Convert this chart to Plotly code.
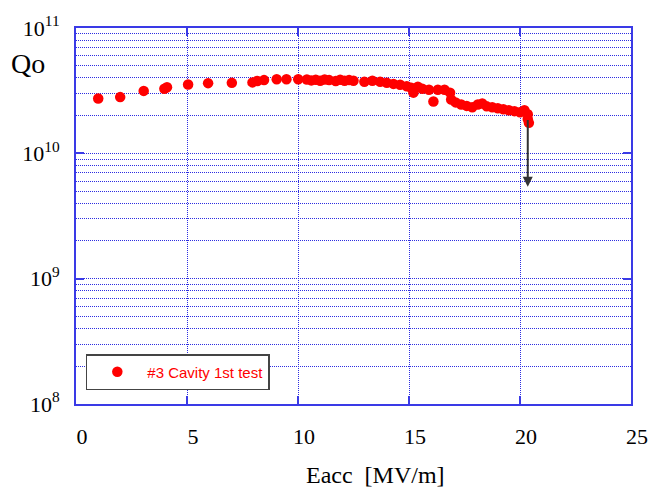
import math
import plotly.graph_objects as go

# Q0 vs accelerating gradient, cavity #3 first vertical test
eacc = [1.00, 1.99, 3.05, 3.98, 4.10, 5.05, 5.95, 7.02, 7.95, 8.17, 8.47, 9.04, 9.48, 10.01,
        10.4, 10.6, 10.8, 11.0, 11.2, 11.4, 11.7, 11.9, 12.1, 12.3, 12.5, 12.99,
        13.35, 13.7, 14.0, 14.3, 14.6, 14.9, 15.1, 15.2, 15.4, 15.6, 15.9, 16.1, 16.3, 16.6,
        16.85, 16.9, 17.1, 17.35, 17.6, 17.85, 18.1, 18.3, 18.5, 18.75, 19.0, 19.25, 19.5,
        19.75, 20.0, 20.2, 20.35, 20.35, 20.4]
q0 = [2.74e10, 2.81e10, 3.15e10, 3.28e10, 3.37e10, 3.54e10, 3.63e10, 3.65e10, 3.68e10, 3.78e10,
      3.84e10, 3.90e10, 3.90e10, 3.90e10,
      3.88e10, 3.82e10, 3.86e10, 3.80e10, 3.88e10, 3.84e10, 3.78e10, 3.86e10, 3.80e10, 3.84e10,
      3.80e10, 3.72e10,
      3.79e10, 3.72e10, 3.65e10, 3.58e10, 3.52e10, 3.43e10, 3.34e10, 3.05e10, 3.40e10, 3.28e10,
      3.22e10, 2.59e10, 3.22e10, 3.22e10,
      3.05e10, 2.69e10, 2.55e10, 2.45e10, 2.39e10, 2.33e10, 2.45e10, 2.50e10, 2.37e10, 2.33e10,
      2.29e10, 2.25e10, 2.21e10, 2.17e10, 2.13e10, 2.21e10, 2.05e10, 1.88e10, 1.75e10]

series_name = "#3 Cavity 1st test"

# quench arrow: Q0 drops below this value at the final gradient
arrow_eacc = 20.35
arrow_q_from = 1.9e10
arrow_q_to = 5.4e9

x_ticks = [0, 5, 10, 15, 20, 25]
y_decades = [8, 9, 10, 11]

BLUE = "#3a3ae6"
GRID = "rgb(45,45,225)"
DASH = "1px,1px"
SERIF = "Liberation Serif, Times New Roman, serif"

fig = go.Figure()
fig.add_trace(go.Scatter(
    x=eacc, y=q0, mode="markers", name=series_name,
    marker=dict(color="#ff0000", size=10.5, line=dict(width=0)),
))

minor_vals = [m * 10 ** d for d in y_decades[:-1] for m in range(2, 10)]

fig.update_layout(
    width=660, height=489,
    margin=dict(l=76, r=18, t=20, b=85),
    paper_bgcolor="white", plot_bgcolor="white",
    showlegend=True,
    legend=dict(
        x=0.0177, y=0.1328, xanchor="left", yanchor="top",
        bgcolor="white", bordercolor="#444", borderwidth=1.5,
        itemwidth=50,
        font=dict(family="Liberation Sans, Arial, sans-serif", size=15, color="#ff0000"),
    ),
    xaxis=dict(
        range=[0, 25], tickvals=x_ticks, ticktext=[str(v) for v in x_ticks],
        showline=True, linecolor=BLUE, linewidth=2, mirror="ticks",
        ticks="inside", ticklen=8, tickwidth=2, tickcolor=BLUE,
        showgrid=True, gridcolor=GRID, gridwidth=1, griddash=DASH,
        zeroline=False,
        tickfont=dict(family=SERIF, size=22, color="black"),
        ticklabelstandoff=12, ticklabelshift=6,
    ),
    yaxis=dict(
        type="log", range=[8, 11],
        tickvals=[10 ** d for d in y_decades],
        ticktext=["10<sup>%d</sup>" % d for d in y_decades],
        showline=True, linecolor=BLUE, linewidth=2, mirror="ticks",
        ticks="inside", ticklen=8, tickwidth=2, tickcolor=BLUE,
        showgrid=True, gridcolor=GRID, gridwidth=1, griddash=DASH,
        zeroline=False,
        minor=dict(tickvals=minor_vals, showgrid=True, gridcolor=GRID,
                   gridwidth=1, griddash=DASH, ticks=""),
        tickfont=dict(family=SERIF, size=22, color="black"),
        ticklabelstandoff=10,
    ),
    annotations=[
        dict(text="Qo", xref="paper", yref="paper", x=-0.0866, y=0.906,
             xanchor="center", yanchor="middle", showarrow=False,
             font=dict(family=SERIF, size=28, color="black")),
        dict(text="Eacc&nbsp;&nbsp;[MV/m]", xref="paper", yref="paper", x=0.539, y=-0.1875,
             xanchor="center", yanchor="middle", showarrow=False,
             font=dict(family=SERIF, size=24, color="black")),
        dict(x=arrow_eacc, y=math.log10(arrow_q_to), ax=arrow_eacc, ay=math.log10(arrow_q_from),
             xref="x", yref="y", axref="x", ayref="y", text="", showarrow=True,
             arrowhead=2, arrowsize=1, arrowwidth=2, arrowcolor="#333333"),
    ],
)

fig.write_html("out.html")
